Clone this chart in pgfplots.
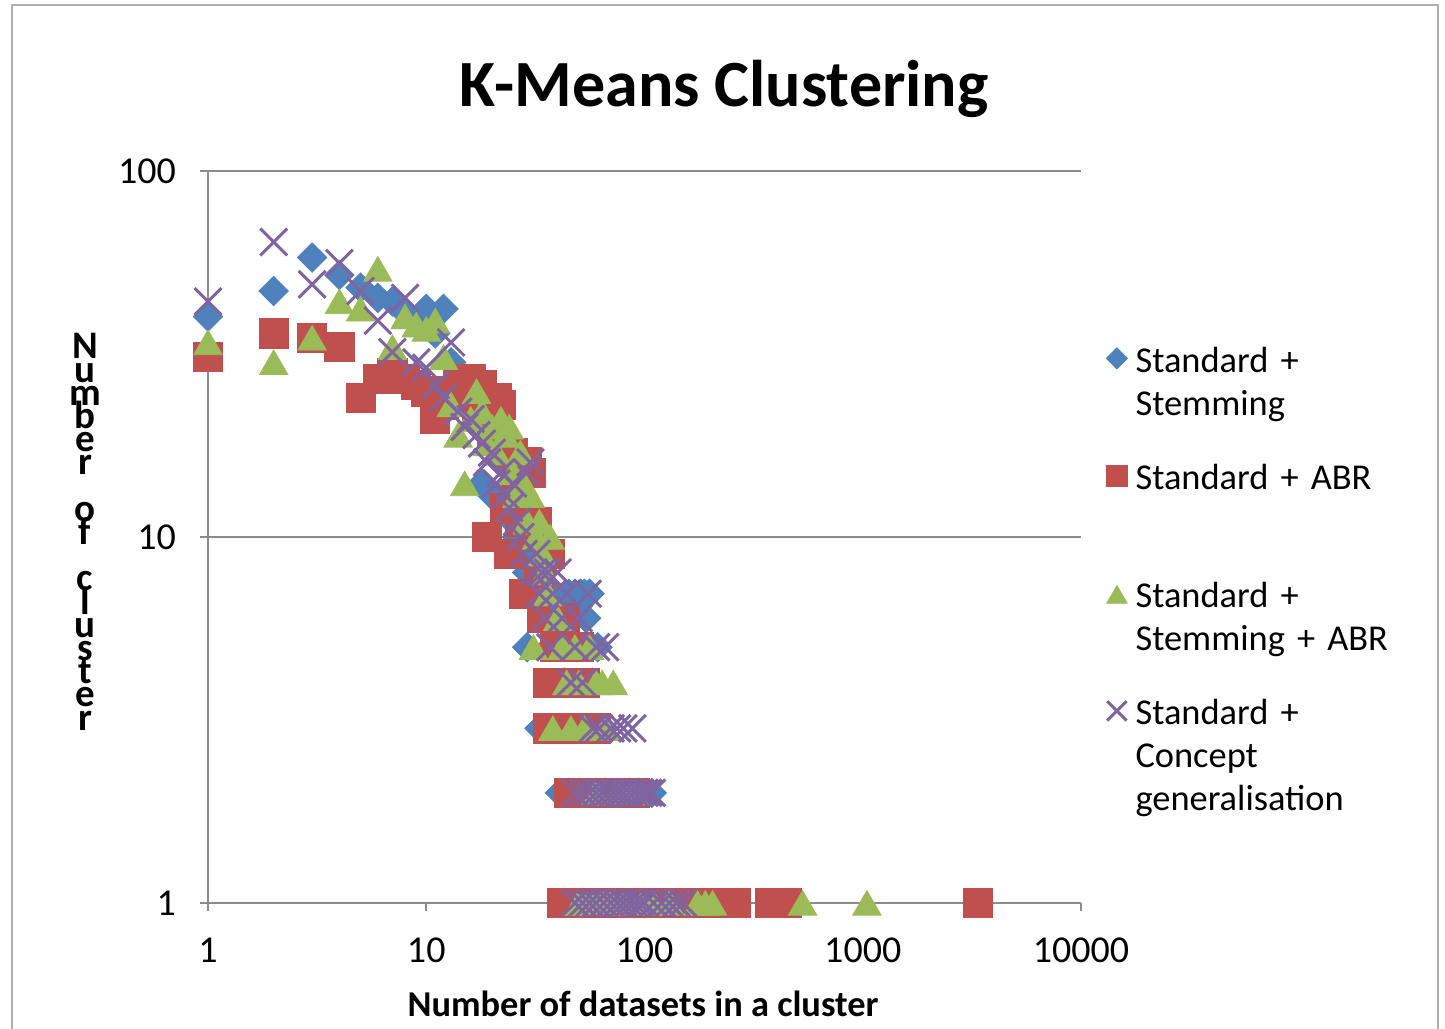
\documentclass[border=0pt]{standalone}
\usepackage{fontspec}
\setmainfont{Carlito}
\usepackage{pgfplots}
\pgfplotsset{compat=1.18}
\definecolor{sblue}{HTML}{4F81BD}
\definecolor{sred}{HTML}{C0504D}
\definecolor{sgreen}{HTML}{9BBB59}
\definecolor{spurple}{HTML}{8064A2}
\definecolor{axgray}{HTML}{8C8C8C}
\begin{document}
\begin{tikzpicture}
\useasboundingbox (0,0) rectangle (722.5pt,514pt);
\draw[color=axgray!70, line width=1pt] (6pt,-10pt) rectangle (719pt,511.5pt);
\node[font=\bfseries\fontsize{33}{40}\selectfont] at (362pt,469.5pt) {K-Means Clustering};
\node[font=\bfseries\fontsize{18.2}{22}\selectfont] at (321.5pt,12pt) {Number of datasets in a cluster};
\foreach \ch [count=\i] in {N,u,m,b,e,r,{},o,f,{},c,l,u,s,t,e,r}
  \node[anchor=base, inner sep=0pt, font=\bfseries\fontsize{19.5}{22}\selectfont] at (42.5pt,{334.5pt-(\i-1)*11.6pt}) {\ch};
\begin{axis}[
  at={(104pt,62.5pt)}, anchor=south west, scale only axis, width=436.5pt, height=366pt,
  xmode=log, ymode=log, xmin=1, xmax=10000, ymin=1, ymax=100,
  axis x line*=bottom, axis y line*=left, axis line style={axgray, line width=0.9pt, -},
  xtick={1,10,100,1000,10000}, xticklabels={1,10,100,1000,10000},
  ytick={1,10,100}, yticklabels={1,10,100},
  xminorticks=false, yminorticks=false,
  tick align=outside, major tick length=4pt, tick style={axgray, line width=0.9pt},
  ymajorgrids, grid style={axgray, line width=0.9pt},
  ticklabel style={font=\fontsize{19}{22}\selectfont},
  xticklabel style={yshift=-10pt},
  yticklabel style={xshift=-8.5pt},
  clip=false,
  legend cell align=left,
  legend style={at={(1.0286,0.7637)}, anchor=north west, draw=none, fill=none, inner sep=0pt,
    font=\fontsize{18.2}{21.5}\selectfont, row sep=0pt, column sep=0pt,
    cells={anchor=base west},
    nodes={text width=140pt, align=left, text height=14pt, text depth=44.75pt, inner ysep=0pt, inner xsep=4pt}},
  legend image code/.code={\draw[mark repeat=2, mark phase=2, #1, every mark/.append style={scale=0.72}] plot coordinates {(-6pt,7pt)(0pt,7pt)(6pt,7pt)};},
]
\addplot[only marks, mark=square*, mark size=5.2pt, mark options={rotate=45, fill=sblue, draw=sblue}] coordinates {
(1,40)(2,47)(3,58)(4,52)(5,48)(6,45)(7,44)(8,41)(9,39)(10,42)(12,42)(11,36)(13,30)(14,28)(15,26)(16,24)(17,22)(18,14)(19,20)(20,13)(21,18)(22,16)(23,12)(24,14)(25,11)(26,10)(29,5)(28,9)(29,8)(30,9)(33,3)(32,8)(33,7)(34,8)(35,6)(37,5)(39,7)(41,6)(43,4)(45,7)(48,7)(49,5)(51,7)(53,7)(54,6)(56,7)(58,4)(57,3)(61,5)(63,3)(41,2)(45,2)(50,2)(55,2)(60,2)(66,2)(75,2)(85,2)(95,2)(102,2)(108,2)(48,1)(52,1)(60,1)(70,1)(80,1)(90,1)(100,1)};
\addlegendentry{Standard +\\Stemming}
\addplot[only marks, mark=square*, mark size=7.3pt, mark options={fill=sred, draw=sred}] coordinates {
(1,31)(2,36)(3,35)(4,33)(5,24)(6,27)(7,28)(8,27)(9,26)(10,25)(11,21)(12,23)(13,25)(14,26)(15,27)(16,27)(17,22)(18,26)(19,10)(20,19)(21,24)(22,23)(23,12)(24,9)(25,17)(26,14)(27,11)(28,7)(29,16)(30,15)(31,10)(32,11)(33,8)(34,6)(36,4)(36,3)(37,9)(39,5)(41,4)(43,6)(45,2)(47,3)(50,5)(53,4)(56,2)(60,3)(65,2)(72,2)(80,2)(90,2)
(42,1)(44,1)(46,1)(49,1)(52,1)(55,1)(60,1)(66,1)(72,1)(80,1)(90,1)(100,1)(110,1)(120,1)(135,1)(150,1)(165,1)(190,1)(210,1)(235,1)(262,1)(375,1)(400,1)(425,1)(450,1)(3375,1)};
\addlegendentry{Standard + ABR}
\addplot[only marks, mark=triangle*, mark size=8.2pt, mark options={fill=sgreen, draw=sgreen, yshift=-2pt}] coordinates {
(1,34)(2,30)(3,35)(4,44)(5,42)(6,54)(7,33)(8,40)(9,38)(10,37)(11,39)(12,31)(13,23)(14,19)(15,14)(16,21)(17,25)(18,22)(19,18)(20,20)(21,17)(22,21)(23,19)(24,20)(25,15)(26,13)(27,17)(28,14)(29,11)(30,13)(31,5)(32,10)(33,11)(34,9)(35,8)(36,7)(37,10)(38,3)(40,6)(42,5)(44,4)(46,3)(48,5)(50,4)(53,3)(56,5)(60,4)(64,4)(72,4)(66,3)(60,2)(75,2)(80,2)(85,2)(90,2)
(50,1)(54,1)(58,1)(64,1)(70,1)(80,1)(95,1)(110,1)(130,1)(175,1)(190,1)(205,1)(530,1)(1045,1)};
\addlegendentry{Standard +\\Stemming + ABR}
\addplot[only marks, mark=x, mark size=9.5pt, mark options={draw=spurple, line width=1.5pt}] coordinates {
(1,44)(2,64)(3,49)(4,56)(5,47)(6,39)(7,32)(8,45)(9,30)(10,29)(11,26)(12,24)(13,34)(14,22)(15,20)(16,21)(17,19)(18,18)(19,16)(20,17)(21,14)(22,15)(23,13)(24,12)(25,14)(26,11)(27,10)(28,9)(29,15)(30,16)(31,8)(32,9)(33,7)(34,8)(35,6)(36,8)(37,5)(38,7)(40,8)(42,6)(44,7)(46,4)(48,5)(50,6)(52,4)(55,7)(58,3)(60,5)(62,3)(66,5)(70,3)(75,3)(80,3)(88,3)
(48,2)(52,2)(56,2)(60,2)(64,2)(68,2)(72,2)(76,2)(80,2)(85,2)(90,2)(95,2)(100,2)(104,2)(108,2)
(48,1)(52,1)(56,1)(60,1)(65,1)(70,1)(75,1)(80,1)(85,1)(90,1)(95,1)(100,1)(110,1)(120,1)(130,1)(140,1)(150,1)};
\addlegendentry{Standard +\\Concept\\generalisation}
\end{axis}
\end{tikzpicture}
\end{document}
